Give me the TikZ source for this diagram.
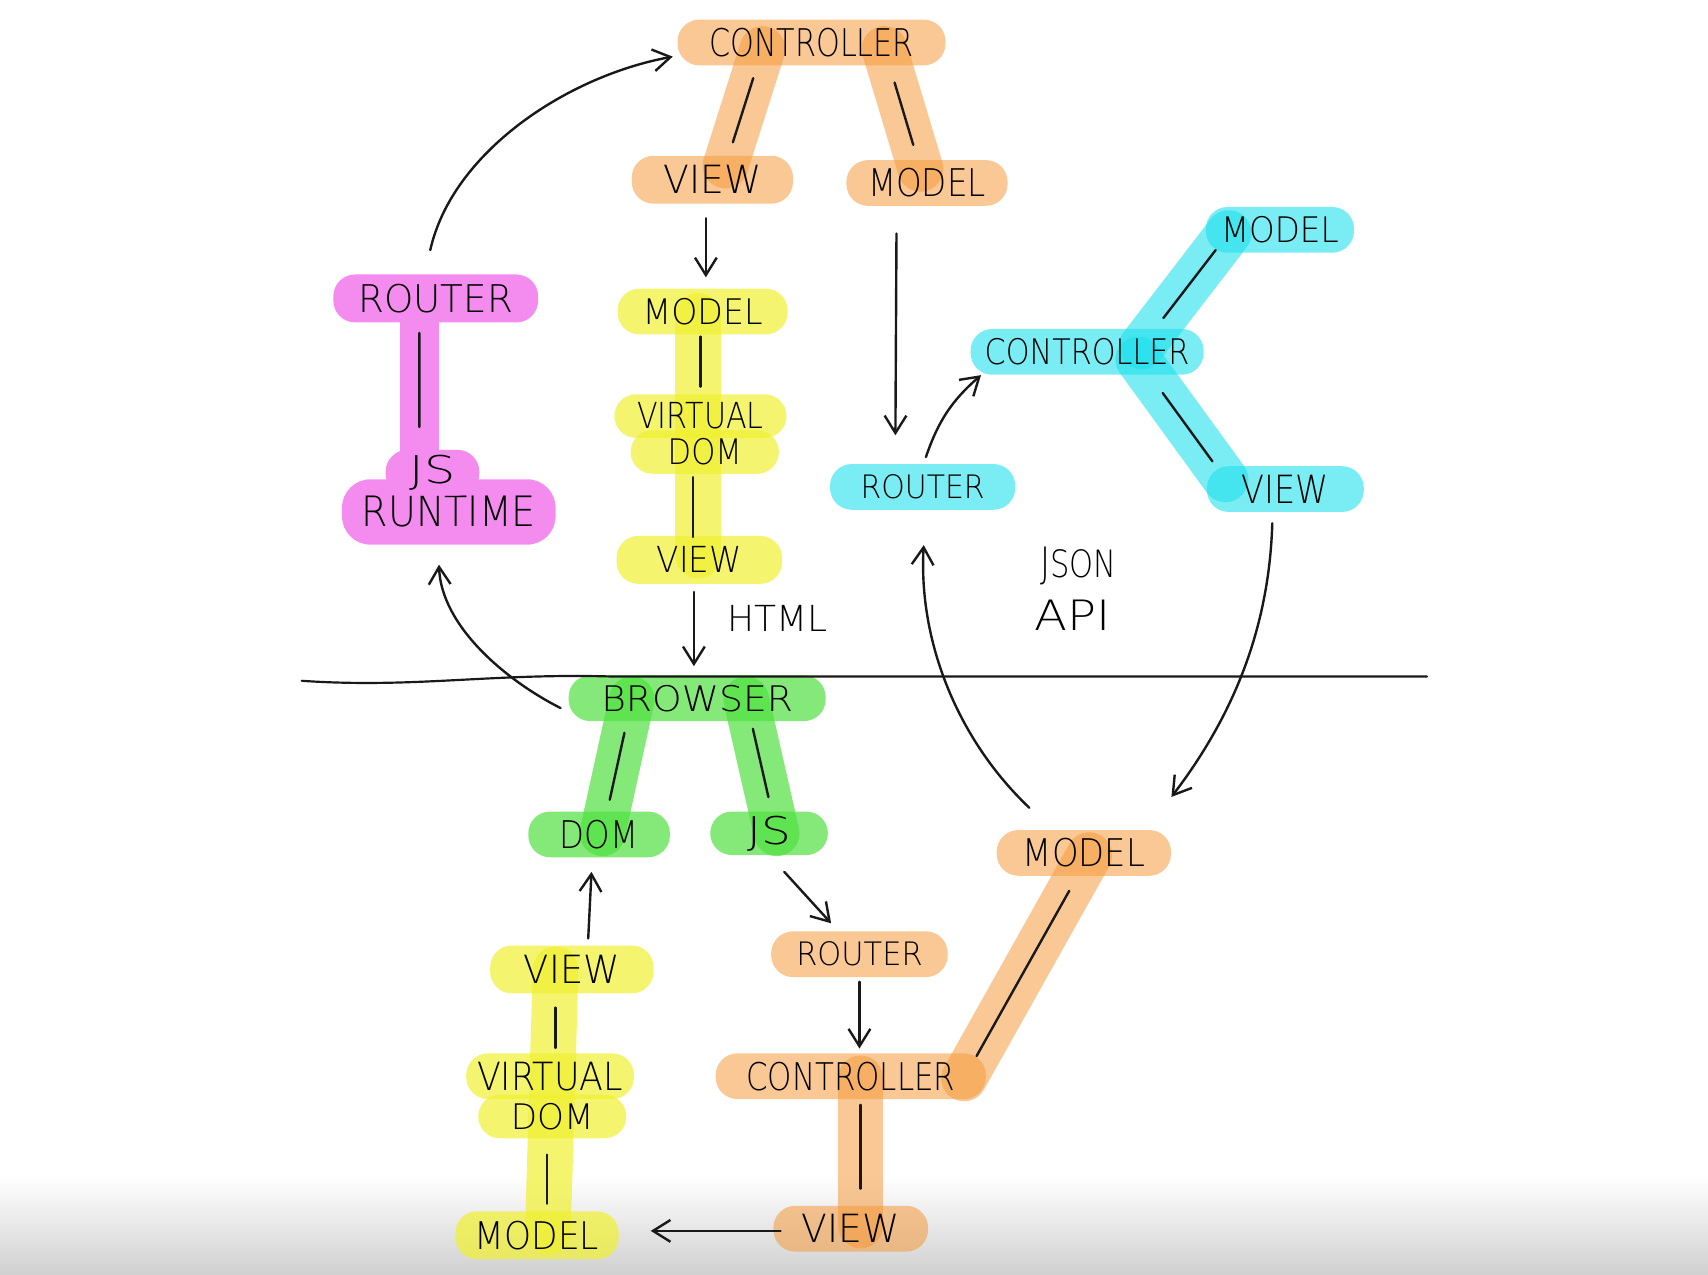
\documentclass[tikz,border=0pt]{standalone}
\usepackage{fontspec}
\usepackage{graphicx}
\usetikzlibrary{arrows.meta,calc}
\newfontfamily\hand{DejaVu Sans ExtraLight}
\newcommand\hw[3]{\resizebox{#1pt}{#2pt}{\hand #3}}
\definecolor{hor}{HTML}{F59A3C}
\definecolor{hye}{HTML}{F0F030}
\definecolor{hcy}{HTML}{20E0EC}
\definecolor{hgr}{HTML}{50E040}
\definecolor{hma}{HTML}{F48BEF}
\tikzset{
  blob/.style={rectangle, rounded corners=10pt, inner sep=0pt, minimum height=21pt, text opacity=1, text=black},
  orb/.style={blob, fill=hor, fill opacity=0.55},
  yeb/.style={blob, fill=hye, fill opacity=0.7},
  cyb/.style={blob, fill=hcy, fill opacity=0.6},
  grb/.style={blob, fill=hgr, fill opacity=0.7},
  mab/.style={blob, fill=hma},
  bar/.style={line width=21pt, line cap=round},
  obar/.style={bar, draw=hor, draw opacity=0.55},
  ybar/.style={bar, draw=hye, draw opacity=0.7},
  cbar/.style={bar, draw=hcy, draw opacity=0.6},
  gbar/.style={bar, draw=hgr, draw opacity=0.7},
  mbar/.style={bar, draw=hma, line width=18pt},
  ink/.style={line width=1.1pt, draw=black!90, line cap=round},
  arr/.style={ink, -{Straight Barb[length=8pt,width=10pt]}},
  txt/.style={inner sep=0pt, text=black}
}
\begin{document}
\begin{tikzpicture}[x=0.5pt,y=-0.5pt]
\useasboundingbox (0,0) rectangle (1568,1170);
% bottom shading
\shade[top color=white, bottom color={rgb,255:red,208;green,208;blue,208}] (0,1080) rectangle (1568,1170);

% bar end points
\coordinate (b1a) at (700,45);  \coordinate (b1b) at (666,152);
\coordinate (b2a) at (812,45);  \coordinate (b2b) at (845,155);
\coordinate (b3a) at (385,280); \coordinate (b3b) at (385,440);
\coordinate (b4a) at (641,290); \coordinate (b4b) at (641,510);
\coordinate (b5a) at (1048,318); \coordinate (b5b) at (1128,214);
\coordinate (b6a) at (1045,330); \coordinate (b6b) at (1125,440);
\coordinate (b7a) at (580,642); \coordinate (b7b) at (553,765);
\coordinate (b8a) at (685,642); \coordinate (b8b) at (713,765);
\coordinate (b9a) at (1000,785); \coordinate (b9b) at (885,990);
\coordinate (b10a) at (790,990); \coordinate (b10b) at (790,1125);
\coordinate (b11a) at (510,890); \coordinate (b11b) at (503,1130);

% highlighter bars
\draw[obar] (b1a) -- (b1b);
\draw[obar] (b2a) -- (b2b);
\draw[mbar] (b3a) -- (b3b);
\draw[ybar] (b4a) -- (b4b);
\draw[cbar] (b5a) -- (b5b);
\draw[cbar] (b6a) -- (b6b);
\draw[gbar] (b7a) -- (b7b);
\draw[gbar] (b8a) -- (b8b);
\draw[obar] (b9a) -- (b9b);
\draw[obar] (b10a) -- (b10b);
\draw[ybar] (b11a) -- (b11b);

% top orange (server MVC)
\node[orb, minimum width=123pt] (oC) at (745,39) {\hw{94}{13}{CONTROLLER}};
\node[orb, minimum width=74pt, minimum height=22pt] (oV) at (654,165) {\hw{45}{13}{VIEW}};
\node[orb, minimum width=74pt] (oM) at (851,168) {\hw{54}{13}{MODEL}};

% magenta
\node[mab, minimum width=94pt, minimum height=22pt] (mR) at (400,274) {\hw{71}{13}{ROUTER}};
\node[mab, minimum width=98pt, minimum height=30pt, rounded corners=13pt] (mRT) at (412,470) {\raisebox{-5pt}{\hw{80}{14}{RUNTIME}}};
\node[mab, minimum width=43pt] (mJ) at (397,434) {\hw{21}{13}{JS}};

% top yellow
\node[yeb, minimum width=78pt] (yM) at (645,286) {\hw{55}{12}{MODEL}};
\node[yeb, minimum width=79pt, minimum height=20pt] (yVi) at (643,382) {\hw{58}{12}{VIRTUAL}};
\node[yeb, minimum width=68pt, minimum height=20pt] (yD) at (647,415) {\hw{34}{12}{DOM}};
\node[yeb, minimum width=76pt, minimum height=22pt] (yV) at (642,514) {\hw{39}{12}{VIEW}};

% cyan
\node[cyb, minimum width=68pt] (cM) at (1175,211) {\hw{54}{12}{MODEL}};
\node[cyb, minimum width=107pt] (cC) at (998,323) {\hw{94}{12}{CONTROLLER}};
\node[cyb, minimum width=85pt] (cR) at (847,447) {\hw{57}{11}{ROUTER}};
\node[cyb, minimum width=72pt] (cV) at (1180,449) {\hw{40}{13}{VIEW}};

% green
\node[grb, minimum width=118pt] (gB) at (640,641) {\hw{88}{12}{BROWSER}};
\node[grb, minimum width=65pt] (gD) at (550,766) {\hw{36}{13}{DOM}};
\node[grb, minimum width=54pt, minimum height=20pt] (gJ) at (706,765) {\hw{20}{13}{JS}};

% lower orange
\node[orb, minimum width=80pt] (lM) at (995,783) {\hw{56}{13}{MODEL}};
\node[orb, minimum width=81pt] (lR) at (789,876) {\hw{58}{11}{ROUTER}};
\node[orb, minimum width=124pt] (lC) at (781,988) {\hw{96}{13}{CONTROLLER}};
\node[orb, minimum width=71pt] (lV) at (781,1128) {\hw{45}{13}{VIEW}};

% lower yellow
\node[yeb, minimum width=75pt, minimum height=22pt] (zV) at (525,890) {\hw{44}{13}{VIEW}};
\node[yeb, minimum width=77pt] (zVi) at (505,988) {\hw{67}{13}{VIRTUAL}};
\node[yeb, minimum width=68pt, minimum height=20pt] (zD) at (507,1025) {\hw{38}{12}{DOM}};
\node[yeb, minimum width=75pt, minimum height=22pt] (zM) at (493,1134) {\hw{57}{13}{MODEL}};

% free labels
\node[txt] (html) at (714,568) {\hw{46}{12}{HTML}};
\node[txt] (json) at (990,520) {\hw{35}{14}{J{\small SON}}};
\node[txt] (api) at (985,565) {\hw{35}{14}{API}};

% ink link strokes inside bars
\draw[ink] ($(b1a)!0.25!(b1b)$) -- ($(b1a)!0.8!(b1b)$);
\draw[ink] ($(b2a)!0.28!(b2b)$) -- ($(b2a)!0.8!(b2b)$);
\draw[ink] ($(b3a)!0.16!(b3b)$) -- ($(b3a)!0.7!(b3b)$);
\draw[ink] (643,309) -- (643,355);
\draw[ink] (636,438) -- (636,493);
\draw[ink] ($(b5a)!0.25!(b5b)$) -- ($(b5a)!0.85!(b5b)$);
\draw[ink] ($(b6a)!0.28!(b6b)$) -- ($(b6a)!0.85!(b6b)$);
\draw[ink] ($(b7a)!0.25!(b7b)$) -- ($(b7a)!0.75!(b7b)$);
\draw[ink] ($(b8a)!0.22!(b8b)$) -- ($(b8a)!0.73!(b8b)$);
\draw[ink] ($(b9a)!0.16!(b9b)$) -- ($(b9a)!0.9!(b9b)$);
\draw[ink] ($(b10a)!0.18!(b10b)$) -- ($(b10a)!0.75!(b10b)$);
\draw[ink] (510,925) -- (510,962);
\draw[ink] (502,1060) -- (502,1105);

% divider line
\draw[ink, line width=1pt] (277,625) .. controls (380,632) and (450,618) .. (560,621) -- (1310,621);

% arrows
\draw[arr] ($(mR.north)+(-5,-22)$) .. controls (415,140) and (520,70) .. ($(oC.west)+(-4,13)$);
\draw[arr] ($(oV.south)+(-6,13)$) -- ($(yM.north)+(3,-10)$);
\draw[arr] ($(oM.south)+(-28,25)$) -- ($(cR.north)+(-25,-26)$);
\draw[arr] ($(cR.north)+(3,-6)$) to[bend left=15] ($(cC.south west)+(10,0)$);
\draw[arr] ($(yV.south)+(-5,7)$) -- ($(gB.north)+(-3,-8)$);
\draw[arr] ($(gB.west)+(-7,9)$) .. controls (465,625) and (405,575) .. ($(mRT.south)+(-9,18)$);
\draw[arr] ($(cV.south)+(-12,10)$) .. controls (1165,580) and (1130,660) .. ($(lM.north east)+(0,-30)$);
\draw[arr] ($(lM.north)+(-50,-20)$) .. controls (880,680) and (843,590) .. ($(cR.south)+(1,32)$);
\draw[arr] ($(gJ.south)+(14,15)$) -- ($(lR.north)+(-26,-7)$);
\draw[arr] ($(lR.south)+(0,4)$) -- ($(lC.north)+(8,-4)$);
\draw[arr] ($(zV.north)+(15,-6)$) -- ($(gD.south)+(-7,13)$);
\draw[arr] ($(lV.west)+(7,2)$) -- ($(zM.east)+(29,-4)$);
\end{tikzpicture}
\end{document}
